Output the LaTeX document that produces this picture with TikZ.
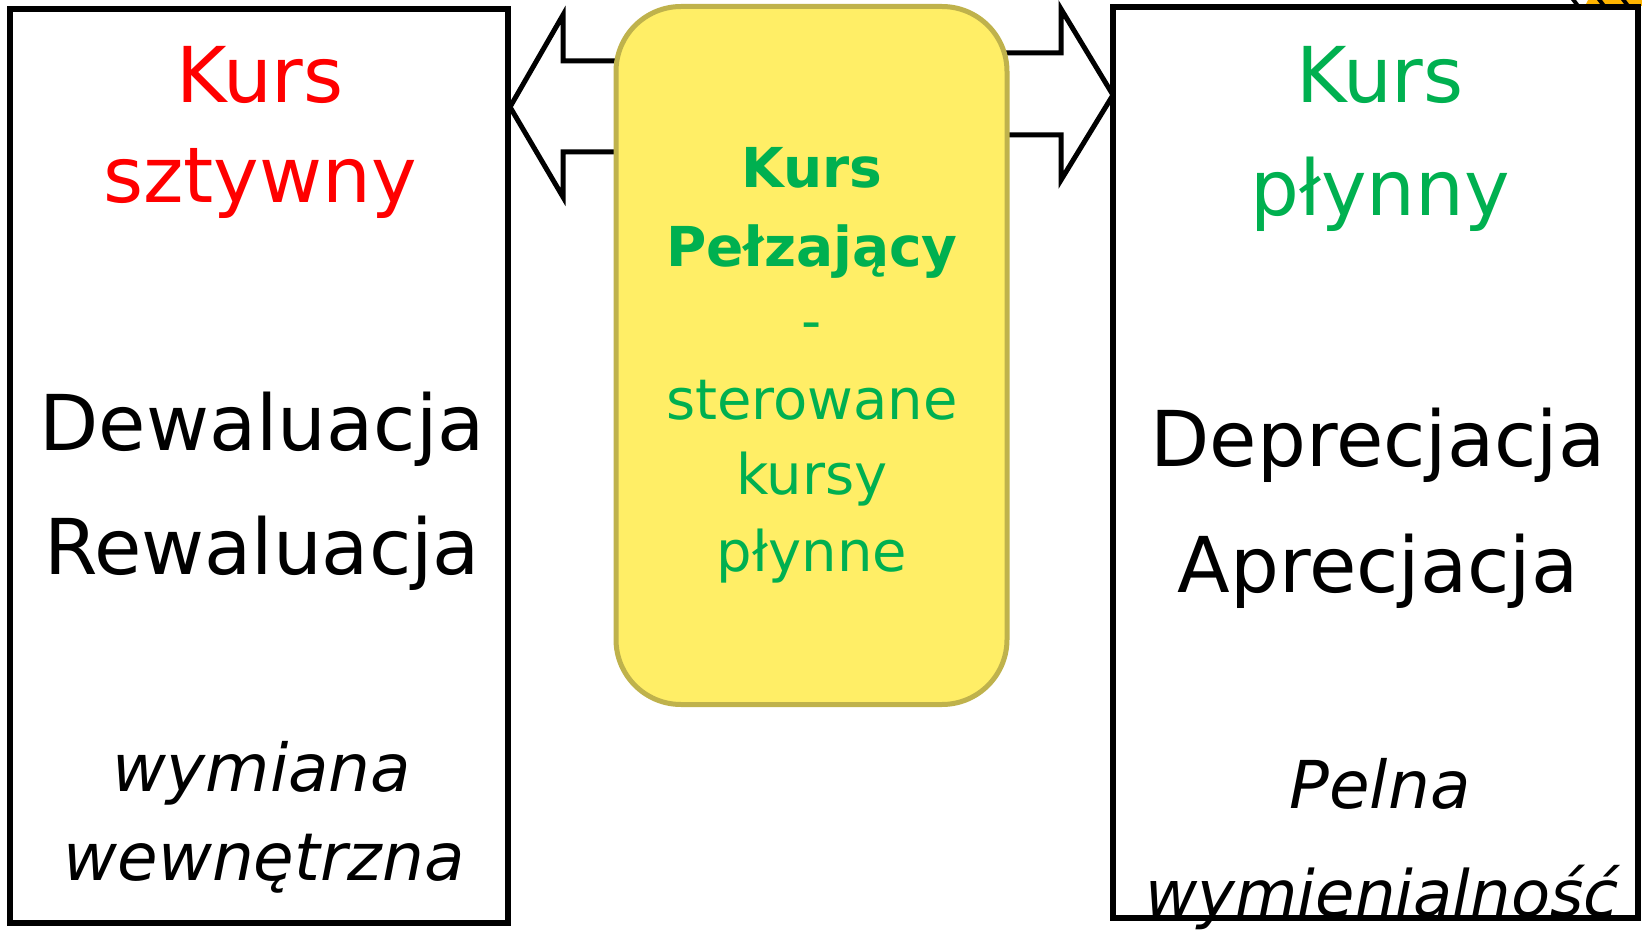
\documentclass[tikz,border=0pt]{standalone}
\usepackage{fontspec}
\setmainfont{DejaVu Sans}
\definecolor{kred}{HTML}{FF0000}
\definecolor{kgreen}{HTML}{00B050}
\definecolor{boxfill}{HTML}{FFEE66}
\definecolor{boxline}{HTML}{BFB24C}
\definecolor{stripe}{HTML}{FFB400}
\begin{document}
\begin{tikzpicture}[x=1pt,y=-1pt,
  panel/.style={draw=black,line width=5.5pt,fill=white,inner sep=0pt},
  middlebox/.style={draw=boxline,line width=5pt,fill=boxfill,rounded corners=65pt,inner sep=0pt},
  fatarrow/.style={draw=black,line width=5pt,line join=miter,fill=white},
  txt/.style={anchor=base,inner sep=0pt},
  big/.style={txt,font=\fontsize{77}{77}\selectfont},
  mid/.style={txt,font=\fontsize{56}{56}\selectfont},
  midb/.style={txt,font=\bfseries\fontsize{55}{55}\selectfont},
  slant/.style={txt,font=\itshape\fontsize{66}{66}\selectfont}]
\useasboundingbox (0,0) rectangle (1642,931);

% partial ornament at the upper right corner
\fill[stripe] (1588,0) -- (1642,0) -- (1642,6) -- (1585,6) -- cycle;
\draw[line width=4pt] (1572,-2) -- (1578,6) (1598,-2) -- (1604,6) (1622,-2) -- (1628,6);

% the three panels
\node[panel,minimum width=498pt,minimum height=914pt] (lbox) at (259,466) {};
\node[panel,minimum width=525pt,minimum height=911pt] (rbox) at (1375.5,462.5) {};

% block arrows pointing out of the middle box
\coordinate (ltip) at (510,107);
\coordinate (rtip) at (1113,95);
\draw[fatarrow] (630,61) -- (563,61) -- (563,15) -- (ltip) -- (563,197) -- (563,152) -- (630,152);
\draw[fatarrow] (995,53) -- (1061,53) -- (1061,9) -- (rtip) -- (1061,180) -- (1061,135) -- (995,135);

\node[middlebox,minimum width=391pt,minimum height=698pt] (cbox) at (811.5,355.5) {};

% left panel
\node[big,text=kred] (l1) at (260,103) {Kurs};
\node[big,text=kred] (l2) at (260,202) {sztywny};
\node[big] (l3) at (262,450) {Dewaluacja};
\node[big] (l4) at (262,574) {Rewaluacja};
\node[slant] (l5) at (262,791) {wymiana};
\node[slant] (l6) at (264,880) {wewnętrzna};

% middle box
\node[midb,text=kgreen] (c1) at (812,188) {Kurs};
\node[midb,text=kgreen] (c2) at (812,266) {Pełzający};
\node[mid,text=kgreen] (c3) at (812,340) {-};
\node[mid,text=kgreen] (c4) at (812,419) {sterowane};
\node[mid,text=kgreen] (c5) at (812,494) {kursy};
\node[mid,text=kgreen] (c6) at (812,571) {płynne};

% right panel
\node[big,text=kgreen] (r1) at (1380,103) {Kurs};
\node[big,text=kgreen] (r2) at (1380,215) {płynny};
\node[big] (r3) at (1378,466) {Deprecjacja};
\node[big] (r4) at (1378,592) {Aprecjacja};
\node[slant] (r5) at (1380,808) {Pelna};
\node[slant,font=\itshape\fontsize{64}{64}\selectfont] (r6) at (1382,916) {wymienialność};
\end{tikzpicture}
\end{document}
